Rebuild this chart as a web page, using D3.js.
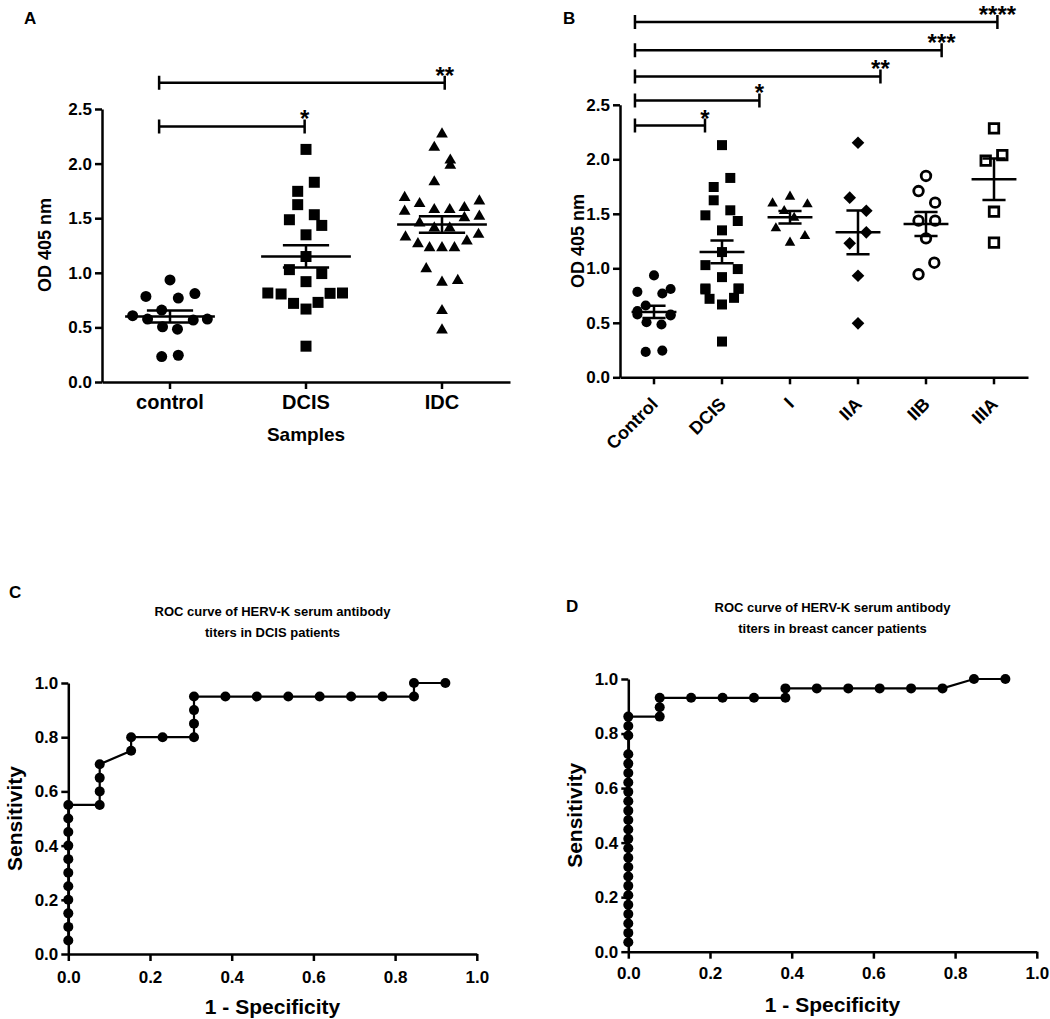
<!DOCTYPE html>
<html><head><meta charset="utf-8">
<script src="https://cdn.jsdelivr.net/npm/d3@7"></script>
<style>
body{margin:0;background:#fff}
svg{display:block}
text{font-family:"Liberation Sans",Arial,sans-serif;font-weight:bold;fill:#000}
</style>
</head><body>
<svg id="chart" width="1050" height="1019"></svg>
<script>
// ---------------- DATA ----------------
const groupsA = ["control", "DCIS", "IDC"];
const groupsB = ["Control", "DCIS", "I", "IIA", "IIB", "IIIA"];
const odTicks = [0, 0.5, 1.0, 1.5, 2.0, 2.5];
const rocTicks = [0, 0.2, 0.4, 0.6, 0.8, 1.0];

const controlOD  = [0.935,0.784,0.769,0.81,0.659,0.607,0.576,0.567,0.576,0.505,0.484,0.233,0.245];
const controlJit = [0,-2.9,1,3,-1,-4.5,-2.7,2.8,4.5,-0.9,0.9,-1,1];
const dcisOD  = [2.13,1.829,1.746,1.624,1.486,1.532,1.434,1.348,1.149,1.029,0.993,0.919,0.815,0.806,0.72,0.668,0.729,0.812,0.815,0.328];
const dcisJit = [0,1,-1,-1,-2,1,1.9,0,0,-2,1.9,0,-4.6,-3,-1.5,0,1.45,2.9,4.4,0];
const idcOD  = [2.27,2.148,2.031,1.985,1.832,1.688,1.633,1.578,1.578,1.596,1.657,1.563,1.455,1.503,1.517,1.409,1.409,1.327,1.265,1.229,1.229,1.229,1.29,1.351,1.036,0.913,0.928,0.653,0.475];
const idcJit = [0,-0.93,1,1,-0.93,-4.5,-2.7,-0.93,0.93,2.7,4.5,-4.5,-2.7,2.7,4.5,-0.93,0.93,-4.4,-2.9,-1.5,0,1.5,3,4.4,-1.9,0,1.9,0,0];
const stageIOD  = [1.596,1.657,1.587,1.526,1.464,1.367,1.296,1.235];
const stageIJit = [-2.1,0,2.1,-0.7,0.5,-1.7,1.8,0];
const stageIIAOD  = [2.152,1.648,1.528,1.33,1.229,0.932,0.495];
const stageIIAJit = [0,-1,1,1,-1,0,0];
const stageIIBOD  = [1.847,1.709,1.602,1.437,1.437,1.275,1.051,0.945];
const stageIIBJit = [0,-0.9,1.1,-0.9,1.1,0,1,-0.9];
const stageIIIAOD  = [2.284,1.987,2.039,1.519,1.235];
const stageIIIAJit = [0,-1,1,0,0];

const meansA = [0.60, 1.15, 1.443];
const semsA  = [0.054, 0.102, 0.076];
const meansB = [0.60, 1.15, 1.468, 1.33, 1.406, 1.817];
const semsB  = [0.056, 0.104, 0.058, 0.20, 0.11, 0.19];

// significance brackets: start/end as category index, level in OD units
const bracketStartA = -0.08;
const bracketEndA   = [0.99, 2.02];
const bracketLevelA = [2.34, 2.74];
const bracketStarsA = ["*", "**"];
const bracketStartB = -0.28;
const bracketEndB   = [0.75, 1.55, 3.33, 4.23, 5.05];
const bracketLevelB = [2.31, 2.54, 2.76, 3.00, 3.26];
const bracketStarsB = ["*", "*", "**", "***", "****"];

// ROC curves
const rocTitleC = ["ROC curve of HERV-K serum antibody", "titers in DCIS patients"];
const rocTitleD = ["ROC curve of HERV-K serum antibody", "titers in breast cancer patients"];
const fprC = [0,0,0,0,0,0,0,0,0,0,0, 0.0769,0.0769,0.0769,0.0769, 0.1538,0.1538, 0.2308,
  0.3077,0.3077,0.3077,0.3077, 0.3846,0.4615,0.5385,0.6154,0.6923,0.7692,0.8462, 0.8462,0.9231];
const tprC = [0.05,0.10,0.15,0.20,0.25,0.30,0.35,0.40,0.45,0.50,0.55, 0.55,0.60,0.65,0.70, 0.75,0.80, 0.80,
  0.80,0.85,0.90,0.95, 0.95,0.95,0.95,0.95,0.95,0.95,0.95, 1.0,1.0];
const fprD = [0,0,0,0,0,0,0,0,0,0,0,0,0,0,0,0,0,0,0,0,0,0,0,0,
  0.0769,0.0769,0.0769, 0.1538,0.2308,0.3077,0.3846, 0.3846,0.4615,0.5385,0.6154,0.6923,0.7692, 0.8462,0.9231];
const tprD = [0.0345,0.069,0.1034,0.1379,0.1724,0.2069,0.2414,0.2759,0.3103,0.3448,0.3793,0.4138,0.4483,0.4828,
  0.5172,0.5517,0.5862,0.6207,0.6552,0.6897,0.7241,0.7931,0.8276,0.8621,
  0.8621,0.8966,0.931, 0.931,0.931,0.931,0.931, 0.9655,0.9655,0.9655,0.9655,0.9655,0.9655, 1.0,1.0];

// ---------------- DRAWING ----------------
const svg = d3.select("#chart");
const SW = 2.5;
const JIT = 8.3; // px per jitter unit

function styleAxis(g){
  g.selectAll("path.domain").attr("stroke","#000").attr("stroke-width",SW);
  g.selectAll(".tick line").attr("stroke","#000").attr("stroke-width",SW);
  g.selectAll("text").attr("font-family",null).attr("fill","#000");
}

const shapes = {
  circle:  {type: d3.symbolCircle},
  square:  {type: d3.symbolSquare},
  triangle:{type: d3.symbolTriangle},
  diamond: {type: d3.symbolSquare, rot: 45},
};

function drawGroup(g, vals, jit, cx, y, shape, size, open, maxJit){
  const gen = d3.symbol().type(shapes[shape].type).size(size);
  g.selectAll(null).data(vals.map((v,i)=>({v, j: Math.max(-maxJit, Math.min(maxJit, jit[i]))})))
    .enter().append("path")
    .attr("d", gen)
    .attr("transform", d => `translate(${cx + d.j*JIT},${y(d.v)})` + (shapes[shape].rot ? ` rotate(${shapes[shape].rot})` : ""))
    .attr("fill", open ? "#fff" : "#000")
    .attr("stroke", open ? "#000" : "none")
    .attr("stroke-width", open ? 2.8 : 0);
}

function drawMeanSem(g, cx, bw, y, m, s){
  const p = d3.path();
  p.moveTo(cx - 0.33*bw, y(m)); p.lineTo(cx + 0.33*bw, y(m));
  p.moveTo(cx - 0.17*bw, y(m+s)); p.lineTo(cx + 0.17*bw, y(m+s));
  p.moveTo(cx - 0.17*bw, y(m-s)); p.lineTo(cx + 0.17*bw, y(m-s));
  p.moveTo(cx, y(m+s)); p.lineTo(cx, y(m-s));
  g.append("path").attr("d", p.toString()).attr("stroke","#000").attr("stroke-width",SW).attr("fill","none");
}

function drawBrackets(g, xi, y, start, ends, levels, stars){
  ends.forEach((e,i)=>{
    const yy = y(levels[i]), x1 = xi(start), x2 = xi(e);
    const p = d3.path();
    p.moveTo(x1, yy-7); p.lineTo(x1, yy+7);
    p.moveTo(x1, yy); p.lineTo(x2, yy);
    p.moveTo(x2, yy-7); p.lineTo(x2, yy+7);
    g.append("path").attr("d", p.toString()).attr("stroke","#000").attr("stroke-width",SW).attr("fill","none");
    g.append("text").attr("x", x2).attr("y", yy+1).attr("text-anchor","middle")
      .attr("font-size", 24).text(stars[i]);
  });
}

// ----- Panel A -----
{
  const g = svg.append("g");
  const x = d3.scaleBand().domain(groupsA).range([102, 510]);
  const xi = d3.scaleLinear().domain([-0.5, 2.5]).range([102, 510]);
  const y = d3.scaleLinear().domain([0, 2.5]).range([382, 109]);
  const bw = x.bandwidth();
  const cx = k => x(k) + bw/2;

  const ya = g.append("g").attr("transform","translate(102,0)")
    .call(d3.axisLeft(y).tickValues(odTicks).tickFormat(d3.format(".1f")).tickSize(7).tickSizeOuter(0));
  ya.selectAll("text").attr("font-size",17);
  styleAxis(ya);
  const xa = g.append("g").attr("transform","translate(0,382)")
    .call(d3.axisBottom(x).tickSize(7).tickSizeOuter(0).tickPadding(6));
  xa.selectAll("text").attr("font-size",20);
  styleAxis(xa);

  drawGroup(g, controlOD, controlJit, cx("control"), y, "circle", 95, false, 9);
  drawGroup(g, dcisOD, dcisJit, cx("DCIS"), y, "square", 121, false, 9);
  drawGroup(g, idcOD, idcJit, cx("IDC"), y, "triangle", 60, false, 9);
  groupsA.forEach((k,i)=>drawMeanSem(g, cx(k), bw, y, meansA[i], semsA[i]));
  drawBrackets(g, xi, y, bracketStartA, bracketEndA, bracketLevelA, bracketStarsA);

  g.append("text").attr("x",306).attr("y",441).attr("text-anchor","middle").attr("font-size",19).text("Samples");
  g.append("text").attr("transform","translate(51,245) rotate(-90)").attr("text-anchor","middle").attr("font-size",18).text("OD 405 nm");
  g.append("text").attr("x",24).attr("y",24).attr("font-size",17).text("A");
}

// ----- Panel B -----
{
  const g = svg.append("g");
  const x = d3.scaleBand().domain(groupsB).range([620, 1028]);
  const xi = d3.scaleLinear().domain([-0.5, 5.5]).range([620, 1028]);
  const y = d3.scaleLinear().domain([0, 2.5]).range([377.3, 104.8]);
  const bw = x.bandwidth();
  const cx = k => x(k) + bw/2;

  const ya = g.append("g").attr("transform","translate(620,0)")
    .call(d3.axisLeft(y).tickValues(odTicks).tickFormat(d3.format(".1f")).tickSize(7).tickSizeOuter(0));
  ya.selectAll("text").attr("font-size",17);
  styleAxis(ya);
  const xa = g.append("g").attr("transform","translate(0,377.3)")
    .call(d3.axisBottom(x).tickSize(7).tickSizeOuter(0));
  xa.selectAll("text").attr("font-size",18).attr("y",0).attr("dy",0)
    .attr("text-anchor","end").attr("transform","translate(5,28) rotate(-45)");
  styleAxis(xa);

  drawGroup(g, controlOD, controlJit, cx("Control"), y, "circle", 80, false, 2);
  drawGroup(g, dcisOD, dcisJit, cx("DCIS"), y, "square", 100, false, 2);
  drawGroup(g, stageIOD, stageIJit, cx("I"), y, "triangle", 48, false, 3);
  drawGroup(g, stageIIAOD, stageIIAJit, cx("IIA"), y, "diamond", 80, false, 3);
  drawGroup(g, stageIIBOD, stageIIBJit, cx("IIB"), y, "circle", 72, true, 3);
  drawGroup(g, stageIIIAOD, stageIIIAJit, cx("IIIA"), y, "square", 90, true, 3);
  groupsB.forEach((k,i)=>drawMeanSem(g, cx(k), bw, y, meansB[i], semsB[i]));
  drawBrackets(g, xi, y, bracketStartB, bracketEndB, bracketLevelB, bracketStarsB);

  g.append("text").attr("transform","translate(584,241) rotate(-90)").attr("text-anchor","middle").attr("font-size",18).text("OD 405 nm");
  g.append("text").attr("x",563).attr("y",24).attr("font-size",17).text("B");
}

// ----- ROC panels -----
function rocPanel(x0, x1, y0, y1, fpr, tpr, title, letter, padX){
  const g = svg.append("g");
  const x = d3.scaleLinear().domain([0,1]).range([x0, x1]);
  const y = d3.scaleLinear().domain([0,1]).range([y0, y1]);
  const ya = g.append("g").attr("transform",`translate(${x0},0)`)
    .call(d3.axisLeft(y).tickValues(rocTicks).tickFormat(d3.format(".1f")).tickSize(7).tickSizeOuter(0));
  ya.selectAll("text").attr("font-size",17);
  styleAxis(ya);
  const xa = g.append("g").attr("transform",`translate(0,${y0})`)
    .call(d3.axisBottom(x).tickValues(rocTicks).tickFormat(d3.format(".1f")).tickSize(7).tickSizeOuter(0).tickPadding(padX));
  xa.selectAll("text").attr("font-size",17);
  styleAxis(xa);

  const pts = fpr.map((f,i)=>[f, tpr[i]]);
  g.append("path").datum(pts)
    .attr("d", d3.line().x(d=>x(d[0])).y(d=>y(d[1])))
    .attr("fill","none").attr("stroke","#000").attr("stroke-width",2.2);
  g.selectAll(null).data(pts).enter().append("circle")
    .attr("cx", d=>x(d[0])).attr("cy", d=>y(d[1])).attr("r",5).attr("fill","#000");

  const mid = (x0 + x1)/2;
  title.forEach((t,i)=>g.append("text").attr("x",mid).attr("y",y1 - 67 + i*21)
    .attr("text-anchor","middle").attr("font-size",13).text(t));
  g.append("text").attr("x",mid).attr("y",y0 + 60).attr("text-anchor","middle").attr("font-size",21).text("1 - Specificity");
  g.append("text").attr("transform",`translate(${x0 - 46},${(y0+y1)/2}) rotate(-90)`)
    .attr("text-anchor","middle").attr("font-size",21).text("Sensitivity");
  return g;
}
const gC = rocPanel(68.3, 476.8, 954, 683, fprC, tprC, rocTitleC, "C", 10);
gC.append("text").attr("x",9).attr("y",598).attr("font-size",17).text("C");
const gD = rocPanel(628.3, 1036.8, 951.7, 679, fprD, tprD, rocTitleD, "D", 8);
gD.append("text").attr("x",566).attr("y",612).attr("font-size",17).text("D");
</script>
</body></html>
